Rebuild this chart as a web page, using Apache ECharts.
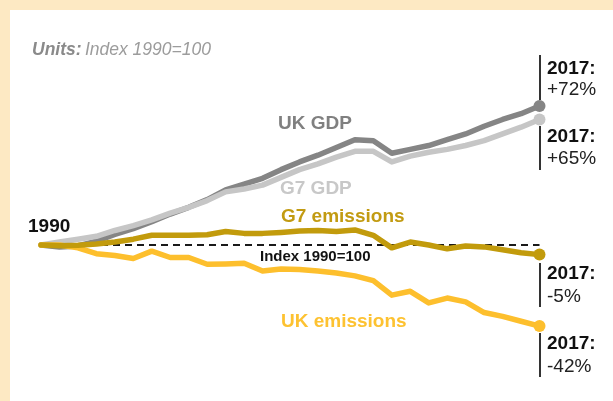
<!DOCTYPE html>
<html>
<head>
<meta charset="utf-8">
<script src="https://cdn.jsdelivr.net/npm/echarts@6/dist/echarts.min.js"></script>
<style>
  html, body { margin: 0; padding: 0; background: #fde9c3; }
  #chart { width: 613px; height: 401px; }
</style>
</head>
<body>
<div id="chart"></div>
<script>
const years = [1990, 1991, 1992, 1993, 1994, 1995, 1996, 1997, 1998, 1999,
    2000, 2001, 2002, 2003, 2004, 2005, 2006, 2007, 2008, 2009,
    2010, 2011, 2012, 2013, 2014, 2015, 2016, 2017]

const ukGdp = [100, 99, 99.5, 102, 105.5, 108.5, 112, 116, 119.5, 123.5,
    128.5, 131.5, 134.5, 139, 143, 146.5, 150.5, 154.5, 154, 147.5,
    149.5, 151.5, 154.5, 157.5, 161.5, 165, 168, 172]

const g7Gdp = [100, 101.5, 103, 104.5, 107.5, 110, 113, 116.5, 119.5, 123,
    127.5, 129, 131, 135, 139, 142, 145.5, 148.5, 148.5, 143,
    146, 148, 149.5, 151.5, 154, 157.5, 161, 165]

const g7Emissions = [100, 99.6, 99.8, 100.5, 101.5, 103, 105, 105, 105, 105.3,
    107, 106, 106, 106.5, 107.2, 107.5, 107, 107.8, 105, 98.5,
    101.5, 100, 98, 99.5, 99, 97.5, 96, 95]

const ukEmissions = [100, 100, 98.5, 95.5, 94.5, 93, 96.8, 93.5, 93.5, 90,
    90.2, 90.5, 86.5, 87.5, 87.3, 86.5, 85.5, 84, 81.5, 74,
    76, 70, 72.5, 70.5, 65, 63, 60.5, 58]

const endLabels = ['+72%', '+65%', '-5%', '-42%']

const FONT = '"Liberation Sans", Arial, sans-serif'
const last = years.length - 1

function lineSeries(name, data, color, z) {
    return {
        name: name,
        type: 'line',
        data: data,
        z: z,
        symbol: 'circle',
        showAllSymbol: true,
        symbolSize: (v, p) => p.dataIndex === last ? 12 : 0,
        itemStyle: {color: color},
        lineStyle: {color: color, width: 5.5, cap: 'round', join: 'round'},
        emphasis: {disabled: true},
        silent: true
    }
}

// text placed by its left edge and vertical middle
function txt(x, y, text, size, color, weight) {
    return {
        type: 'text', x: x, y: y, z: 10,
        style: {text: text, fill: color, font: (weight || 'normal') + ' ' + size + 'px ' + FONT,
            align: 'left', verticalAlign: 'middle'}
    }
}

function vline(y1, y2) {
    return {type: 'line', z: 10, shape: {x1: 540, y1: y1, x2: 540, y2: y2}, style: {stroke: '#333', lineWidth: 2}}
}

const chart = echarts.init(document.getElementById('chart'))

const ukGdpSeries = lineSeries('UK GDP', ukGdp, '#858585', 3)
ukGdpSeries.markLine = {
    silent: true,
    symbol: 'none',
    label: {show: false},
    lineStyle: {color: '#1a1a1a', width: 2, type: [7, 5]},
    data: [{yAxis: 100}]
}

chart.setOption({
    animation: false,
    backgroundColor: '#fde9c3',
    grid: {left: 41, right: 73.5, top: 90.5, height: 251},
    xAxis: {type: 'category', data: years, boundaryGap: false, show: false},
    yAxis: {type: 'value', min: 50, max: 180, show: false},
    series: [
        ukGdpSeries,
        lineSeries('G7 GDP', g7Gdp, '#c6c6c6', 4),
        lineSeries('UK emissions', ukEmissions, '#fdbf2d', 5),
        lineSeries('G7 emissions', g7Emissions, '#c29b0c', 6)
    ],
    graphic: [
        {type: 'rect', z: -10, shape: {x: 10, y: 10, width: 603, height: 391}, style: {fill: '#ffffff'}},
        {
            type: 'text', x: 32, y: 50, z: 10,
            style: {
                text: '{b|Units:} {n|Index 1990=100}',
                align: 'left',
                verticalAlign: 'middle',
                rich: {
                    b: {font: 'italic bold 17.5px ' + FONT, fill: '#8a8a8a'},
                    n: {font: 'italic 17.5px ' + FONT, fill: '#9c9c9c'}
                }
            }
        },
        txt(278, 124, 'UK GDP', 19, '#808080', 'bold'),
        txt(280, 189, 'G7 GDP', 19, '#c8c8c8', 'bold'),
        txt(281, 216.5, 'G7 emissions', 19, '#c29b12', 'bold'),
        txt(281, 321.5, 'UK emissions', 19, '#fdc231', 'bold'),
        txt(28, 226.5, '1990', 19, '#111', 'bold'),
        txt(260, 257, 'Index 1990=100', 15, '#111', 'bold'),
        vline(55, 100), vline(126, 170), vline(263, 307), vline(333, 377),
        txt(547, 68.5, '2017:', 19, '#111', 'bold'),
        txt(547, 90, endLabels[0], 19, '#222'),
        txt(547, 136.5, '2017:', 19, '#111', 'bold'),
        txt(547, 158.5, endLabels[1], 19, '#222'),
        txt(547, 274, '2017:', 19, '#111', 'bold'),
        txt(547, 296.5, endLabels[2], 19, '#222'),
        txt(547, 344, '2017:', 19, '#111', 'bold'),
        txt(547, 366.5, endLabels[3], 19, '#222')
    ]
})
</script>
</body>
</html>
